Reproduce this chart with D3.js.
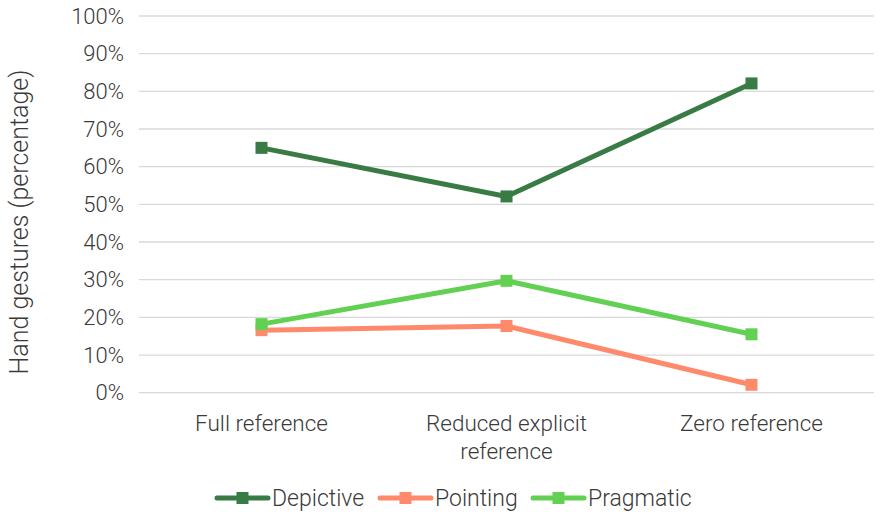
<!DOCTYPE html>
<html>
<head>
<meta charset="utf-8">
<script src="https://cdn.jsdelivr.net/npm/d3@7"></script>
<style>
  body { margin: 0; background: #fff; }
  text { font-family: Roboto, "Liberation Sans", sans-serif; font-weight: 300; fill: #3a3a3a; }
</style>
</head>
<body>
<div id="chart"></div>
<script>
// Data
const categories = ['Full reference', 'Reduced explicit reference', 'Zero reference'];
const depictive = [0.65, 0.521, 0.821];
const pointing = [0.166, 0.177, 0.021];
const pragmatic = [0.182, 0.297, 0.155];
const yTicks = [0, 0.1, 0.2, 0.3, 0.4, 0.5, 0.6, 0.7, 0.8, 0.9, 1];

const series = [
    { name: 'Depictive', values: depictive, color: '#387b45' },
    { name: 'Pointing', values: pointing, color: '#ff8a6b' },
    { name: 'Pragmatic', values: pragmatic, color: '#62d153' }
];

const width = 883;
const height = 515;
const margin = { top: 16, right: 9, bottom: 122, left: 139 };

const svg = d3.select('#chart').append('svg')
    .attr('width', width)
    .attr('height', height);

const xScale = d3.scaleBand()
    .domain(categories)
    .range([margin.left, width - margin.right]);

const yScale = d3.scaleLinear()
    .domain([0, 1])
    .range([height - margin.bottom - 0.3, margin.top]);

// Gridlines
svg.append('g')
    .selectAll('line')
    .data(yTicks)
    .enter().append('line')
    .attr('x1', margin.left)
    .attr('x2', width - margin.right)
    .attr('y1', d => yScale(d))
    .attr('y2', d => yScale(d))
    .attr('stroke', '#d9d9d9')
    .attr('stroke-width', 1.3);

// Y axis
const yAxis = d3.axisLeft(yScale)
    .tickValues(yTicks)
    .tickFormat(d3.format('.0%'))
    .tickSize(0)
    .tickPadding(15);
const gy = svg.append('g')
    .attr('transform', `translate(${margin.left},0)`)
    .call(yAxis);
gy.select('.domain').remove();
gy.selectAll('text').attr('font-size', 22).attr('fill', '#3a3a3a')
    .attr('font-family', 'Roboto, sans-serif').attr('font-weight', 300);

// X axis
const xAxis = d3.axisBottom(xScale).tickSize(0).tickFormat('');
const gx = svg.append('g')
    .attr('transform', `translate(0,${yScale(0)})`)
    .call(xAxis);
gx.select('.domain').remove();

const xLabelLines = {
    'Full reference': ['Full reference'],
    'Reduced explicit reference': ['Reduced explicit', 'reference'],
    'Zero reference': ['Zero reference']
};
categories.forEach(c => {
    const t = svg.append('text')
        .attr('x', xScale(c) + xScale.bandwidth() / 2)
        .attr('y', 431)
        .attr('text-anchor', 'middle')
        .attr('font-size', 22.5);
    xLabelLines[c].forEach((line, i) => {
        t.append('tspan')
            .attr('x', xScale(c) + xScale.bandwidth() / 2)
            .attr('dy', i === 0 ? 0 : 28)
            .text(line);
    });
});

// Y axis title
svg.append('text')
    .attr('transform', `translate(28,222) rotate(-90)`)
    .attr('text-anchor', 'middle')
    .attr('font-size', 25)
    .text('Hand gestures (percentage)');

// Lines
const line = d3.line()
    .x((d, i) => xScale(categories[i]) + xScale.bandwidth() / 2)
    .y(d => yScale(d));

const ms = 12;
series.forEach(s => {
    svg.append('path')
        .datum(s.values)
        .attr('fill', 'none')
        .attr('stroke', s.color)
        .attr('stroke-width', 5)
        .attr('stroke-linejoin', 'round')
        .attr('d', line);
    svg.append('g')
        .selectAll('rect')
        .data(s.values)
        .enter().append('rect')
        .attr('x', (d, i) => xScale(categories[i]) + xScale.bandwidth() / 2 - ms / 2)
        .attr('y', d => yScale(d) - ms / 2)
        .attr('width', ms)
        .attr('height', ms)
        .attr('fill', s.color);
});

// Legend
const legendX = [217, 380, 533];
const legendY = 498;
series.forEach((s, i) => {
    const g = svg.append('g').attr('transform', `translate(${legendX[i]},${legendY})`);
    g.append('line')
        .attr('x1', 0).attr('x2', 51)
        .attr('y1', 0).attr('y2', 0)
        .attr('stroke', s.color)
        .attr('stroke-width', 5)
        .attr('stroke-linecap', 'round');
    g.append('rect')
        .attr('x', 25.5 - ms / 2).attr('y', -ms / 2)
        .attr('width', ms).attr('height', ms)
        .attr('fill', s.color);
    g.append('text')
        .attr('x', 55)
        .attr('y', 8)
        .attr('font-size', 23)
        .text(s.name);
});
</script>
</body>
</html>
